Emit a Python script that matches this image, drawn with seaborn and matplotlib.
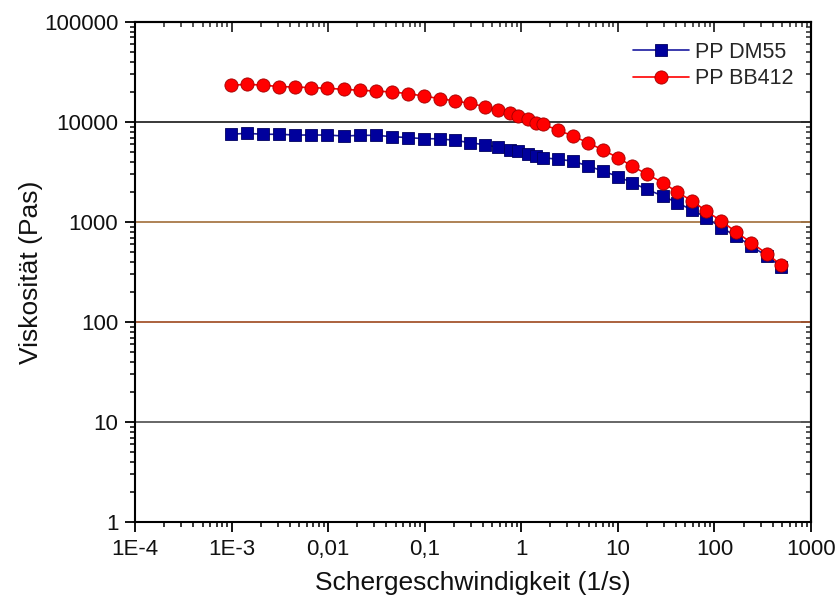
import numpy as np
import pandas as pd
import seaborn as sns
import matplotlib
matplotlib.use("Agg")
import matplotlib.pyplot as plt
from matplotlib.ticker import FixedLocator, FixedFormatter, LogLocator, NullFormatter

# ---- data ----
shear_rate = [0.00098, 0.00144, 0.0021, 0.00313, 0.0045, 0.0067, 0.0098, 0.0146, 0.0212,
              0.031, 0.0462, 0.067, 0.0975, 0.1426, 0.204, 0.292, 0.417, 0.573, 0.757,
              0.923, 1.17, 1.43, 1.67, 2.39, 3.42, 4.89, 7.0, 10.0, 14.0, 20.0, 29.2,
              40.8, 58.9, 82.2, 117.5, 168, 240, 348, 490]
visc_dm55 = [7540, 7710, 7540, 7540, 7410, 7410, 7410, 7240, 7360,
             7360, 7140, 6980, 6820, 6790, 6560, 6220, 5920, 5590, 5270,
             5090, 4750, 4590, 4400, 4240, 4070, 3630, 3240, 2850, 2480, 2120, 1820,
             1563, 1318, 1107, 879, 724, 575, 457, 358]
visc_bb412 = [23300, 23800, 23400, 22600, 22400, 22080, 21730, 21230, 20750,
              20420, 19950, 19230, 18200, 17140, 16290, 15380, 14260, 13180, 12220,
              11480, 10640, 9860, 9480, 8320, 7240, 6220, 5250, 4400, 3630, 3000, 2480,
              2000, 1622, 1288, 1023, 794, 622, 483, 372]
series_names = ["PP DM55", "PP BB412"]

x_ticks = [1e-4, 1e-3, 1e-2, 1e-1, 1, 10, 100, 1000]
x_ticklabels = ["1E-4", "1E-3", "0,01", "0,1", "1", "10", "100", "1000"]
y_ticks = [1, 10, 100, 1000, 10000, 100000]
y_ticklabels = ["1", "10", "100", "1000", "10000", "100000"]
grid_levels = [10, 100, 1000, 10000]

# ---- style ----
sns.set_theme(style="white")
plt.rcParams["font.family"] = ["Liberation Sans", "DejaVu Sans"]

fig = plt.figure(figsize=(8.38, 6.03), dpi=100)
ax = fig.add_axes([0.1611, 0.1343, 0.8067, 0.8292])

df_dm = pd.DataFrame({"x": shear_rate, "y": visc_dm55})
df_bb = pd.DataFrame({"x": shear_rate, "y": visc_bb412})

sns.lineplot(data=df_dm, x="x", y="y", ax=ax, color="#1a1aa0", lw=1.2,
             marker="s", markersize=8, markerfacecolor="#00009c",
             markeredgecolor="#000060", markeredgewidth=0.6,
             estimator=None, sort=False, label=series_names[0], zorder=3)
sns.lineplot(data=df_bb, x="x", y="y", ax=ax, color="#ff0000", lw=1.2,
             marker="o", markersize=9.5, markerfacecolor="#ff0000",
             markeredgecolor="#a00000", markeredgewidth=0.6,
             estimator=None, sort=False, label=series_names[1], zorder=4)

ax.set_xscale("log")
ax.set_yscale("log")
ax.set_xlim(1e-4, 1000)
ax.set_ylim(1, 100000)

# grid lines
grid_colors = {10: "#5a5a5a", 100: "#a5552e", 1000: "#a87848", 10000: "#2a2a2a"}
for lvl in grid_levels:
    ax.axhline(lvl, color=grid_colors[lvl], lw=1.3, zorder=1)

ax.xaxis.set_major_locator(FixedLocator(x_ticks))
ax.xaxis.set_major_formatter(FixedFormatter(x_ticklabels))
ax.yaxis.set_major_locator(FixedLocator(y_ticks))
ax.yaxis.set_major_formatter(FixedFormatter(y_ticklabels))
ax.xaxis.set_minor_locator(LogLocator(base=10, subs=np.arange(2, 10), numticks=20))
ax.yaxis.set_minor_locator(LogLocator(base=10, subs=np.arange(2, 10), numticks=20))
ax.xaxis.set_minor_formatter(NullFormatter())
ax.yaxis.set_minor_formatter(NullFormatter())

ax.tick_params(which="major", direction="out", length=7, width=1.3, color="black",
               labelsize=16, labelcolor="#111111", pad=5,
               bottom=True, left=True, top=False, right=False)
ax.tick_params(which="minor", direction="out", length=3.5, width=1.1, color="black",
               bottom=True, left=True, top=False, right=False)

for s in ax.spines.values():
    s.set_visible(True)
    s.set_color("black")
    s.set_linewidth(1.5)

# inward ticks on top and right
secx = ax.secondary_xaxis("top")
secx.xaxis.set_major_locator(FixedLocator(x_ticks))
secx.xaxis.set_minor_locator(LogLocator(base=10, subs=np.arange(2, 10), numticks=20))
secx.tick_params(which="major", direction="in", length=7, width=1.3, labeltop=False)
secx.tick_params(which="minor", direction="in", length=3.5, width=1.1)
secx.xaxis.set_major_formatter(NullFormatter())
secx.xaxis.set_minor_formatter(NullFormatter())
secx.spines["top"].set_linewidth(1.5)

secy = ax.secondary_yaxis("right")
secy.yaxis.set_major_locator(FixedLocator(y_ticks))
secy.yaxis.set_minor_locator(LogLocator(base=10, subs=np.arange(2, 10), numticks=20))
secy.tick_params(which="major", direction="in", length=7, width=1.3, labelright=False)
secy.tick_params(which="minor", direction="in", length=3.5, width=1.1)
secy.yaxis.set_major_formatter(NullFormatter())
secy.yaxis.set_minor_formatter(NullFormatter())
secy.spines["right"].set_linewidth(1.5)

ax.set_xlabel("Schergeschwindigkeit (1/s)", fontsize=19, color="#111111", labelpad=8)
ax.set_ylabel("Viskosität (Pas)", fontsize=19, color="#111111", labelpad=1)

leg = ax.legend(loc="upper right", frameon=False, fontsize=15.5,
                handlelength=2.6, handletextpad=0.3, borderaxespad=0.4,
                labelspacing=0.25, bbox_to_anchor=(1.0, 0.995))

fig.savefig("out.png", dpi=100)
